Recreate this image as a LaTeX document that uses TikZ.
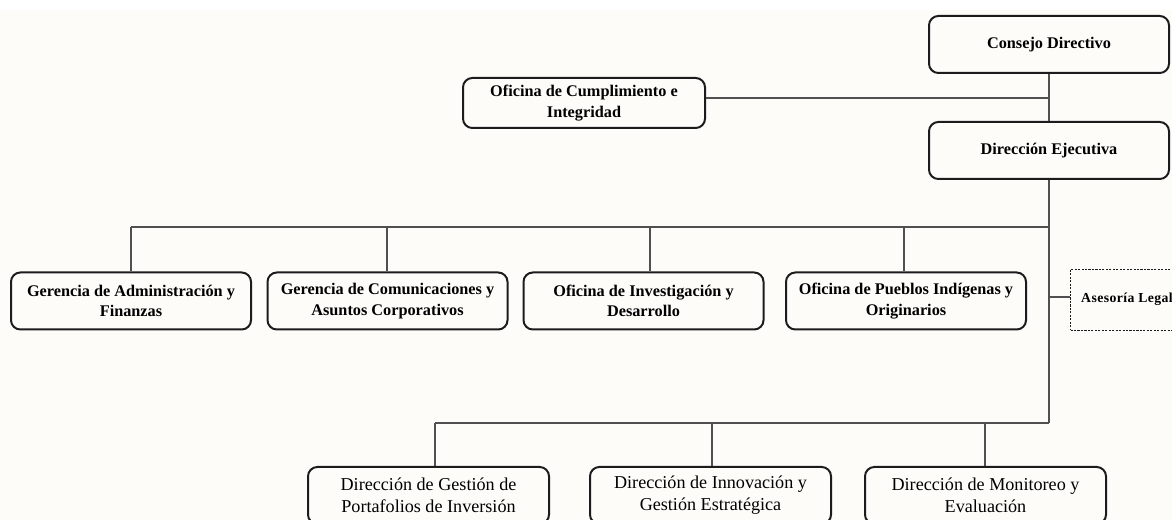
\documentclass[tikz,border=0pt]{standalone}
\usepackage{fontspec}
\setmainfont{Liberation Serif}
\newfontfamily\legalfont[LetterSpace=3]{Liberation Serif}
\usetikzlibrary{positioning}
\definecolor{paper}{RGB}{253,252,249}
\definecolor{edgegray}{RGB}{80,80,80}
\definecolor{boxline}{RGB}{28,28,28}

\begin{document}
\begin{tikzpicture}[x=0.75pt, y=-0.75pt, inner sep=0pt,
      unit/.style={draw=boxline, line width=1.5pt, rounded corners=7pt,
        minimum width=180pt, minimum height=42.75pt, align=center,
        font=\fontsize{12.2}{15.2}\selectfont\bfseries},
      dir/.style={draw=boxline, line width=1.5pt, rounded corners=7pt,
        minimum width=180.75pt, minimum height=42.75pt, align=center,
        font=\fontsize{13.6}{16.3}\selectfont},
      asesor/.style={draw=boxline, line width=0.6pt, dash pattern=on 1.6pt off 1pt,
        minimum width=84.75pt, minimum height=45.75pt,
        font=\legalfont\fontsize{10.3}{12}\selectfont\bfseries},
      link/.style={draw=edgegray, line width=1pt}]
      \clip (0,0) rectangle (1172,520);
      \fill[white] (0,0) rectangle (1172,10);
      \fill[paper] (0,10) rectangle (1172,520);
      % consejo, cumplimiento, direccion ejecutiva
      \node[unit](consejo) at(1049,44.5) {Consejo Directivo};
      \node[unit, minimum width=181.5pt, minimum height=37.5pt](cumpl) at(584,103)
        {Oficina de Cumplimiento e\\Integridad};
      \node[unit](ejec) at(1049,150.5) {Dirección Ejecutiva};
      \coordinate (j_top) at (1049,98);
      \draw[link] (consejo) -- (ejec);
      \draw[link] (cumpl.east |- j_top) -- (j_top);
      % gerencias y oficinas
      \node[unit](admin) at(131,301) {Gerencia de Administración y\\Finanzas};
      \node[unit](comun) at(387.5,301) {Gerencia de Comunicaciones y\\Asuntos Corporativos};
      \node[unit](invest) at(643.5,301) {Oficina de Investigación y\\Desarrollo};
      \node[unit](pueblos) at(906,301) {Oficina de Pueblos Indígenas y\\Originarios};
      \coordinate (j_bar) at (1049,227);
      \coordinate (d_admin) at (131,227);
      \coordinate (d_comun) at (387,227);
      \coordinate (d_invest) at (650,227);
      \coordinate (d_pueblos) at (904,227);
      \draw[link] (d_admin) -- (j_bar);
      \draw[link] (d_admin) -- (d_admin |- admin.north);
      \draw[link] (d_comun) -- (d_comun |- comun.north);
      \draw[link] (d_invest) -- (d_invest |- invest.north);
      \draw[link] (d_pueblos) -- (d_pueblos |- pueblos.north);
      % asesoria legal
      \node[asesor](legal) at(1127,299.5) {Asesoría Legal};
      \coordinate (j_legal) at (1049,297);
      \draw[link] (j_legal) -- (j_legal -| legal.west);
      % direcciones
      \coordinate (j_low) at (1049,423);
      \draw[link] (ejec) -- (j_low);
      \node[dir](gestion) at(428.5,495.5) {Dirección de Gestión de\\Portafolios de Inversión};
      \node[dir](innova) at(710.5,495.5) {Dirección de Innovación y\\Gestión Estratégica};
      \node[dir](monitor) at(985.5,495.5) {Dirección de Monitoreo y\\Evaluación};
      \coordinate (d_gestion) at (435,423);
      \coordinate (d_innova) at (712,423);
      \coordinate (d_monitor) at (985,423);
      \draw[link] (d_gestion) -- (j_low);
      \draw[link] (d_gestion) -- (d_gestion |- gestion.north);
      \draw[link] (d_innova) -- (d_innova |- innova.north);
      \draw[link] (d_monitor) -- (d_monitor |- monitor.north);
\end{tikzpicture}
\end{document}
